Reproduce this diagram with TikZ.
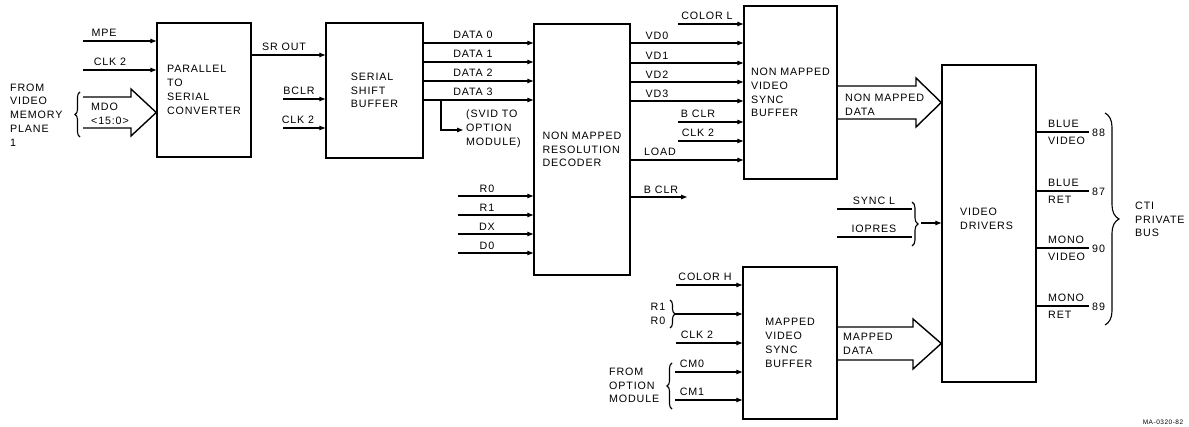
\documentclass[tikz,border=0pt]{standalone}
\usepackage{fontspec}
\setmainfont{Liberation Sans}[LetterSpace=8]
\usetikzlibrary{arrows.meta,decorations.pathreplacing}
\newcommand\dfont{\fontsize{10.7}{13.8}\selectfont}
\begin{document}
\begin{tikzpicture}[x=1pt,y=-1pt,
  blk/.style={draw, line width=1.5pt, inner sep=0pt, align=left, font=\dfont},
  lab/.style={inner sep=0pt, font=\dfont},
  labl/.style={inner sep=0pt, font=\dfont, anchor=west, align=left},
  sig/.style={line width=1.1pt, -{Triangle[length=6pt,width=4.5pt]}},
  wire/.style={line width=1.1pt},
  fat/.style={line width=1.4pt, line join=miter},
  brc/.style={line width=1.1pt, decorate, decoration={brace, amplitude=#1}},
  brc/.default=5pt
]
\useasboundingbox (0,0) rectangle (1189,427);

% blocks
\node[blk, minimum width=94pt, minimum height=134pt] (p2s) at (204,90) {PARALLEL\\TO\\SERIAL\\CONVERTER};
\node[blk, minimum width=97pt, minimum height=135pt] (ssb) at (374.5,90.5) {SERIAL\\SHIFT\\BUFFER};
\node[blk, minimum width=96pt, minimum height=251pt] (nmrd) at (582,149.5) {NON MAPPED\\RESOLUTION\\DECODER};
\node[blk, minimum width=93pt, minimum height=173pt] (nmvsb) at (790.5,92.5) {NON MAPPED\\VIDEO\\SYNC\\BUFFER};
\node[blk, minimum width=94pt, minimum height=317pt] (vd) at (989,223.5) {};
\node[labl] (lvd) at (960,219) {VIDEO\\DRIVERS};
\node[blk, minimum width=94pt, minimum height=152pt] (mvsb) at (790,343) {MAPPED\\VIDEO\\SYNC\\BUFFER};

% inputs to parallel to serial converter
\coordinate (mpe) at (83,41);
\draw[sig] (mpe) -- (mpe -| p2s.west);
\node[lab] (lmpe) at (104,33) {MPE};
\coordinate (clka) at (83,70);
\draw[sig] (clka) -- (clka -| p2s.west);
\node[lab] (lclka) at (110,62) {CLK 2};
\coordinate (mdo) at (83,112.5);
\draw[fat] (83,97) -- (131,97) -- (131,89) -- (mdo -| p2s.west) -- (131,136) -- (131,128) -- (83,128);
\node[labl] (lmdo) at (91,113.5) {MDO\\<15:0>};
\draw[brc] (80,137) -- (80,92);
\node[labl] (lfrom) at (10,115) {FROM\\VIDEO\\MEMORY\\PLANE\\1};

% serial shift buffer
\coordinate (sro) at (251,55);
\draw[sig] (p2s.east |- sro) -- (sro -| ssb.west);
\node[lab] (lsro) at (284,47) {SR OUT};
\coordinate (bclr) at (283,99);
\draw[sig] (bclr) -- (bclr -| ssb.west);
\node[lab] (lbclr) at (299,91) {BCLR};
\coordinate (clkb) at (283,128);
\draw[sig] (clkb) -- (clkb -| ssb.west);
\node[lab] (lclkb) at (298,120) {CLK 2};

% data lines
\foreach \i/\y in {0/43,1/62,2/81,3/100}{
  \coordinate (d\i) at (423,\y);
  \draw[sig] (ssb.east |- d\i) -- (d\i -| nmrd.west);
  \node[lab] (ld\i) at (473,\y-8) {DATA \i};
}
\coordinate (sva) at (441,100);
\coordinate (svb) at (463,130);
\draw[sig] (sva) |- (svb);
\node[labl] (lsv) at (466,129) {(SVID TO\\OPTION\\MODULE)};

% decoder inputs
\foreach \n/\t/\y in {r0/R0/196,r1/R1/215,dx/DX/234,d0/D0/253}{
  \coordinate (\n) at (458,\y);
  \draw[sig] (\n) -- (\n -| nmrd.west);
  \node[lab] (l\n) at (487,\y-7) {\t};
}
\coordinate (bco) at (687,197);
\draw[sig] (nmrd.east |- bco) -- (bco);
\node[lab] (lbco) at (661,190) {B CLR};

% non mapped video sync buffer inputs
\coordinate (coll) at (678,24);
\draw[sig] (coll) -- (coll -| nmvsb.west);
\node[lab] (lcoll) at (707,16) {COLOR L};
\foreach \i/\y in {0/43,1/63,2/82,3/101}{
  \coordinate (vd\i) at (630,\y);
  \draw[sig] (nmrd.east |- vd\i) -- (vd\i -| nmvsb.west);
  \node[lab] (lvd\i) at (657,\y-7) {VD\i};
}
\coordinate (bcl) at (678,122);
\draw[sig] (bcl) -- (bcl -| nmvsb.west);
\node[lab] (lbcl) at (698,114) {B CLR};
\coordinate (clkc) at (678,141);
\draw[sig] (clkc) -- (clkc -| nmvsb.west);
\node[lab] (lclkc) at (698,133) {CLK 2};
\coordinate (load) at (630,160);
\draw[sig] (nmrd.east |- load) -- (load -| nmvsb.west);
\node[lab] (lload) at (660,152) {LOAD};

% non mapped data bus arrow
\coordinate (nmd) at (837,102.5);
\draw[fat] (nmvsb.east |- 0,86) -- (916,86) -- (916,78) -- (nmd -| vd.west) -- (916,127) -- (916,119) -- (nmvsb.east |- 0,119);
\node[labl] (lnmd) at (845,105) {NON MAPPED\\DATA};

% sync / iopres
\coordinate (syncl) at (837,209);
\coordinate (syncr) at (912,209);
\draw[wire] (syncl) -- (syncr);
\node[lab] (lsync) at (874,201) {SYNC L};
\coordinate (iopl) at (837,237);
\coordinate (iopr) at (912,237);
\draw[wire] (iopl) -- (iopr);
\node[lab] (liop) at (874,229) {IOPRES};
\draw[brc=6pt] (912,202) -- (912,246);
\coordinate (synct) at (921,223);
\draw[sig] (synct) -- (synct -| vd.west);

% mapped video sync buffer inputs
\coordinate (colh) at (676,285);
\draw[sig] (colh) -- (colh -| mvsb.west);
\node[lab] (lcolh) at (705,277) {COLOR H};
\draw[brc=5pt] (670,300) -- (670,328);
\coordinate (rr) at (675,314);
\draw[sig] (rr) -- (rr -| mvsb.west);
\node[lab] (lr1) at (658,307) {R1};
\node[lab] (lr0) at (658,321) {R0};
\coordinate (clkd) at (676,343);
\draw[sig] (clkd) -- (clkd -| mvsb.west);
\node[lab] (lclkd) at (697,335) {CLK 2};
\coordinate (cm0) at (675,372);
\draw[sig] (cm0) -- (cm0 -| mvsb.west);
\node[lab] (lcm0) at (692,364) {CM0};
\coordinate (cm1) at (675,400);
\draw[sig] (cm1) -- (cm1 -| mvsb.west);
\node[lab] (lcm1) at (692,392) {CM1};
\draw[brc=5pt] (672,409) -- (672,363);
\node[labl] (lfromopt) at (609,385.5) {FROM\\OPTION\\MODULE};

% mapped data bus arrow
\coordinate (md) at (837,343.5);
\draw[fat] (mvsb.east |- 0,327) -- (913,327) -- (913,319) -- (md -| vd.west) -- (913,369) -- (913,360) -- (mvsb.east |- 0,360);
\node[labl] (lmd) at (843,344) {MAPPED\\DATA};

% outputs
\foreach \n/\a/\b/\y in {88/BLUE/VIDEO/132,87/BLUE/RET/191,90/MONO/VIDEO/248,89/MONO/RET/306}{
  \coordinate (o\n) at (1089,\y);
  \draw[wire] (vd.east |- o\n) -- (o\n);
  \node[labl] (la\n) at (1048,\y-8) {\a};
  \node[labl] (lb\n) at (1048,\y+9) {\b};
  \node[labl] (ln\n) at (1092,\y+1) {\n};
}
\draw[brc=14pt] (1105,113) -- (1105,325);
\node[labl] (lcti) at (1135,219.5) {CTI\\PRIVATE\\BUS};

\node[lab, font=\fontsize{6.5}{7}\selectfont] (lma) at (1163,422) {MA-0320-82};
\end{tikzpicture}
\end{document}
